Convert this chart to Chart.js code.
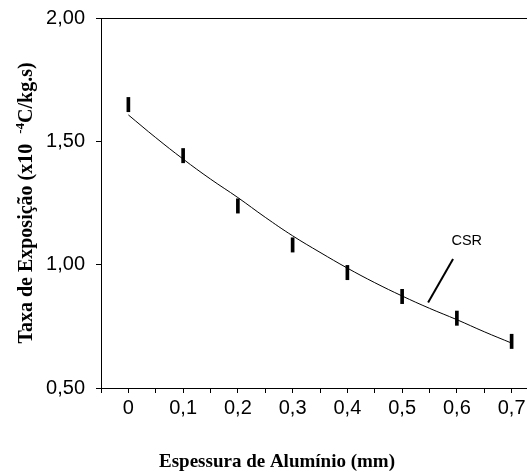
<!DOCTYPE html>
<html>
<head>
<meta charset="utf-8">
<script src="https://cdn.jsdelivr.net/npm/chart.js@4.4.1/dist/chart.umd.min.js"></script>
<style>
  html, body { margin: 0; padding: 0; background: #fff; overflow: hidden; }
  #wrap { width: 545px; height: 474px; }
</style>
</head>
<body>
<div id="wrap"><canvas id="chart" width="545" height="474"></canvas></div>
<script>
// Measured points: aluminium thickness (mm) vs exposure rate (x10^-4 C/kg.s)
const thickness = [0, 0.1, 0.2, 0.3, 0.4, 0.5, 0.6, 0.7];
const exposure = [1.649, 1.442, 1.238, 1.080, 0.968, 0.871, 0.783, 0.689];
const errors = [0.029, 0.029, 0.029, 0.029, 0.029, 0.029, 0.029, 0.029];

// Fitted curve
const fitX = [0, 0.05, 0.1, 0.15, 0.2, 0.25, 0.3, 0.35, 0.4, 0.45, 0.5, 0.55, 0.6, 0.65, 0.7];
const fitY = [1.607, 1.515, 1.428, 1.347, 1.272, 1.192, 1.117, 1.050, 0.986, 0.927, 0.873, 0.823, 0.777, 0.728, 0.682];

// Axis labels
const xLabels = [0, 0.1, 0.2, 0.3, 0.4, 0.5, 0.6, 0.7];
const yTicks = [0.5, 1.0, 1.5, 2.0];

// "CSR" callout (data coordinates)
const calloutText = 'CSR';
const calloutAt = [0.618, 1.097];
const leaderFrom = [0.593, 1.023];
const leaderTo = [0.5475, 0.847];

const comma = (v, d) => v.toFixed(d).replace('.', ',');

// Draws the frame top, the callout and both axis titles
const extras = {
  id: 'extras',
  afterDraw(chart) {
    const { ctx, chartArea, scales } = chart;
    const x = scales.x, y = scales.y;
    ctx.save();
    ctx.strokeStyle = '#000';
    ctx.fillStyle = '#000';

    // top edge of the frame
    ctx.lineWidth = 1;
    ctx.beginPath();
    ctx.moveTo(chartArea.left, Math.round(chartArea.top) + 0.5);
    ctx.lineTo(chartArea.right, Math.round(chartArea.top) + 0.5);
    ctx.stroke();

    // callout
    ctx.lineWidth = 2;
    ctx.beginPath();
    ctx.moveTo(x.getPixelForValue(leaderFrom[0]), y.getPixelForValue(leaderFrom[1]));
    ctx.lineTo(x.getPixelForValue(leaderTo[0]), y.getPixelForValue(leaderTo[1]));
    ctx.stroke();
    ctx.font = '14.5px "Liberation Sans", Arial, sans-serif';
    ctx.textAlign = 'center';
    ctx.textBaseline = 'middle';
    ctx.fillText(calloutText, x.getPixelForValue(calloutAt[0]), y.getPixelForValue(calloutAt[1]));

    // x title
    ctx.font = 'bold 19px "Liberation Serif", "Times New Roman", serif';
    ctx.fillText('Espessura de Alumínio (mm)', 277, 462);

    // y title with superscript
    const bigFont = 'bold 20px "Liberation Serif", "Times New Roman", serif';
    const supFont = 'bold 13px "Liberation Serif", "Times New Roman", serif';
    const partA = 'Taxa de Exposição (x10  ';
    const partSup = '-4';
    const partB = 'C/kg.s)';
    ctx.font = bigFont;
    const wA = ctx.measureText(partA).width;
    const wB = ctx.measureText(partB).width;
    ctx.font = supFont;
    const wS = ctx.measureText(partSup).width;
    const total = wA + wS + wB;
    ctx.translate(27, 203);
    ctx.rotate(-Math.PI / 2);
    ctx.textAlign = 'left';
    let pos = -total / 2;
    ctx.font = bigFont;
    ctx.fillText(partA, pos, 0);
    pos += wA;
    ctx.font = supFont;
    ctx.fillText(partSup, pos, -6);
    pos += wS;
    ctx.font = bigFont;
    ctx.fillText(partB, pos, 0);
    ctx.restore();
  }
};

const ctx = document.getElementById('chart').getContext('2d');
new Chart(ctx, {
  type: 'line',
  data: {
    datasets: [
      {
        type: 'bar',
        data: thickness.map((t, i) => ({ x: t, y: [exposure[i] - errors[i], exposure[i] + errors[i]] })),
        backgroundColor: '#000',
        borderWidth: 0,
        barThickness: 3,
        order: 0
      },
      {
        type: 'line',
        data: fitX.map((t, i) => ({ x: t, y: fitY[i] })),
        borderColor: '#000',
        borderWidth: 1,
        pointRadius: 0,
        tension: 0.4,
        fill: false,
        order: 1
      }
    ]
  },
  options: {
    responsive: false,
    animation: false,
    devicePixelRatio: 1,
    layout: { padding: { top: 18, right: 6, bottom: 0, left: 0 } },
    plugins: { legend: { display: false }, tooltip: { enabled: false } },
    scales: {
      x: {
        type: 'linear',
        min: -0.05,
        max: 0.75,
        offset: false,
        afterFit: (s) => { s.height = 86; s.paddingLeft = 0; s.paddingRight = 0; },
        grid: { offset: false, drawOnChartArea: false, drawTicks: true, tickLength: 5, color: '#000' },
        border: { display: true, color: '#000', width: 1 },
        ticks: {
          stepSize: 0.05,
          autoSkip: false,
          maxRotation: 0,
          padding: 3,
          color: '#000',
          font: { family: '"Liberation Sans", Arial, sans-serif', size: 20 },
          callback: (v) => {
            const r = Math.round(v * 100) / 100;
            return xLabels.includes(r) ? String(r).replace('.', ',') : '';
          }
        }
      },
      y: {
        type: 'linear',
        min: yTicks[0],
        max: yTicks[yTicks.length - 1],
        afterFit: (s) => { s.width = 101; s.paddingTop = 0; s.paddingBottom = 0; },
        afterBuildTicks: (s) => { s.ticks = yTicks.map(v => ({ value: v })); },
        grid: { drawOnChartArea: false, drawTicks: true, tickLength: 5, color: '#000' },
        border: { display: true, color: '#000', width: 1 },
        ticks: {
          padding: 11,
          color: '#000',
          font: { family: '"Liberation Sans", Arial, sans-serif', size: 20 },
          callback: (v) => comma(v, 2)
        }
      }
    }
  },
  plugins: [extras]
});
</script>
</body>
</html>
